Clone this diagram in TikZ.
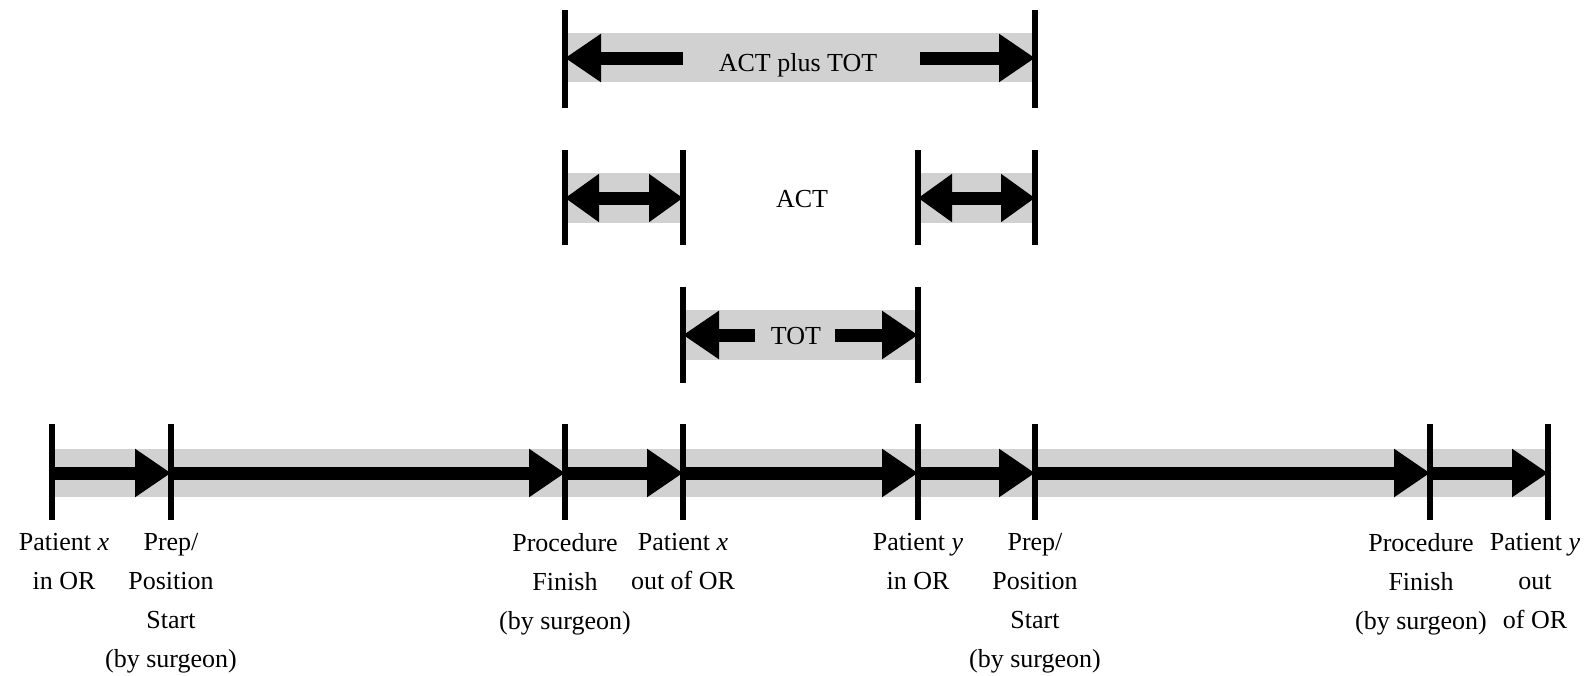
\documentclass[tikz,border=0pt]{standalone}
\usepackage{fontspec}
\setmainfont{Liberation Serif}
\usetikzlibrary{arrows.meta}
\definecolor{bandgray}{gray}{0.82}
\begin{document}
\begin{tikzpicture}[x=0.5pt,y=-0.5pt,
  band/.style={fill=bandgray, draw=none},
  tickline/.style={line width=2.6pt, black},
  arr/.style={line width=6.5pt, -{Triangle[length=18pt,width=23pt]}},
  darr/.style={line width=6.5pt, {Triangle[length=17pt,width=23pt]}-{Triangle[length=17pt,width=23pt]}},
  lbl/.style={font=\fontsize{13}{19.5}\selectfont, align=center, anchor=north, inner sep=0pt},
  ttl/.style={font=\fontsize{13}{15}\selectfont, anchor=base, inner sep=0pt}]
\useasboundingbox (0,0) rectangle (1588,675);

% ---------- bands ----------
\fill[band] (52,449) rectangle (1548,497);
\fill[band] (565,33) rectangle (1035,82);
\fill[band] (565,173) rectangle (683,223);
\fill[band] (918,173) rectangle (1035,223);
\fill[band] (683,310) rectangle (918,360);

% ---------- timeline ----------
\foreach \n/\x in {1/52,2/171,3/565,4/683,5/918,6/1035,7/1430,8/1548}{
  \coordinate (t\n) at (\x,473);
  \coordinate (t\n top) at (\x,424);
  \coordinate (t\n bot) at (\x,520);
  \draw[tickline] (t\n top) -- (t\n bot);
}
\draw[arr] (t1) -- (t2);
\draw[arr] (t2) -- (t3);
\draw[arr] (t3) -- (t4);
\draw[arr] (t4) -- (t5);
\draw[arr] (t5) -- (t6);
\draw[arr] (t6) -- (t7);
\draw[arr] (t7) -- (t8);

% ---------- labels ----------
\node[lbl] (l1) at (64,533) {Patient \textit{x}\\in OR};
\node[lbl] (l2) at (171,533) {Prep/\\Position\\Start\\(by surgeon)};
\node[lbl] (l3) at (565,533) {Procedure\\Finish\\(by surgeon)};
\node[lbl] (l4) at (683,533) {Patient \textit{x}\\out of OR};
\node[lbl] (l5) at (918,533) {Patient \textit{y}\\in OR};
\node[lbl] (l6) at (1035,533) {Prep/\\Position\\Start\\(by surgeon)};
\node[lbl] (l7) at (1421,533) {Procedure\\Finish\\(by surgeon)};
\node[lbl] (l8) at (1535,533) {Patient \textit{y}\\out\\of OR};

% ---------- ACT plus TOT ----------
\coordinate (a1) at (565,58);
\coordinate (a2) at (1035,58);
\coordinate (a1s) at (683,58);
\coordinate (a2s) at (920,58);
\draw[tickline] (565,10) -- (565,108);
\draw[tickline] (1035,10) -- (1035,108);
\draw[arr] (a1s) -- (a1);
\draw[arr] (a2s) -- (a2);
\node[ttl] (apt) at (798,71) {ACT plus TOT};

% ---------- ACT ----------
\coordinate (b1) at (565,198);
\coordinate (b2) at (683,198);
\coordinate (b3) at (918,198);
\coordinate (b4) at (1035,198);
\foreach \x in {565,683,918,1035}{
  \draw[tickline] (\x,150) -- (\x,245);
}
\draw[darr] (b1) -- (b2);
\draw[darr] (b3) -- (b4);
\node[ttl] (act) at (802,207) {ACT};

% ---------- TOT ----------
\coordinate (c1) at (683,335);
\coordinate (c2) at (918,335);
\coordinate (c1s) at (755,335);
\coordinate (c2s) at (835,335);
\draw[tickline] (683,287) -- (683,383);
\draw[tickline] (918,287) -- (918,383);
\draw[arr] (c1s) -- (c1);
\draw[arr] (c2s) -- (c2);
\node[ttl] (tot) at (796,344) {TOT};
\end{tikzpicture}
\end{document}
